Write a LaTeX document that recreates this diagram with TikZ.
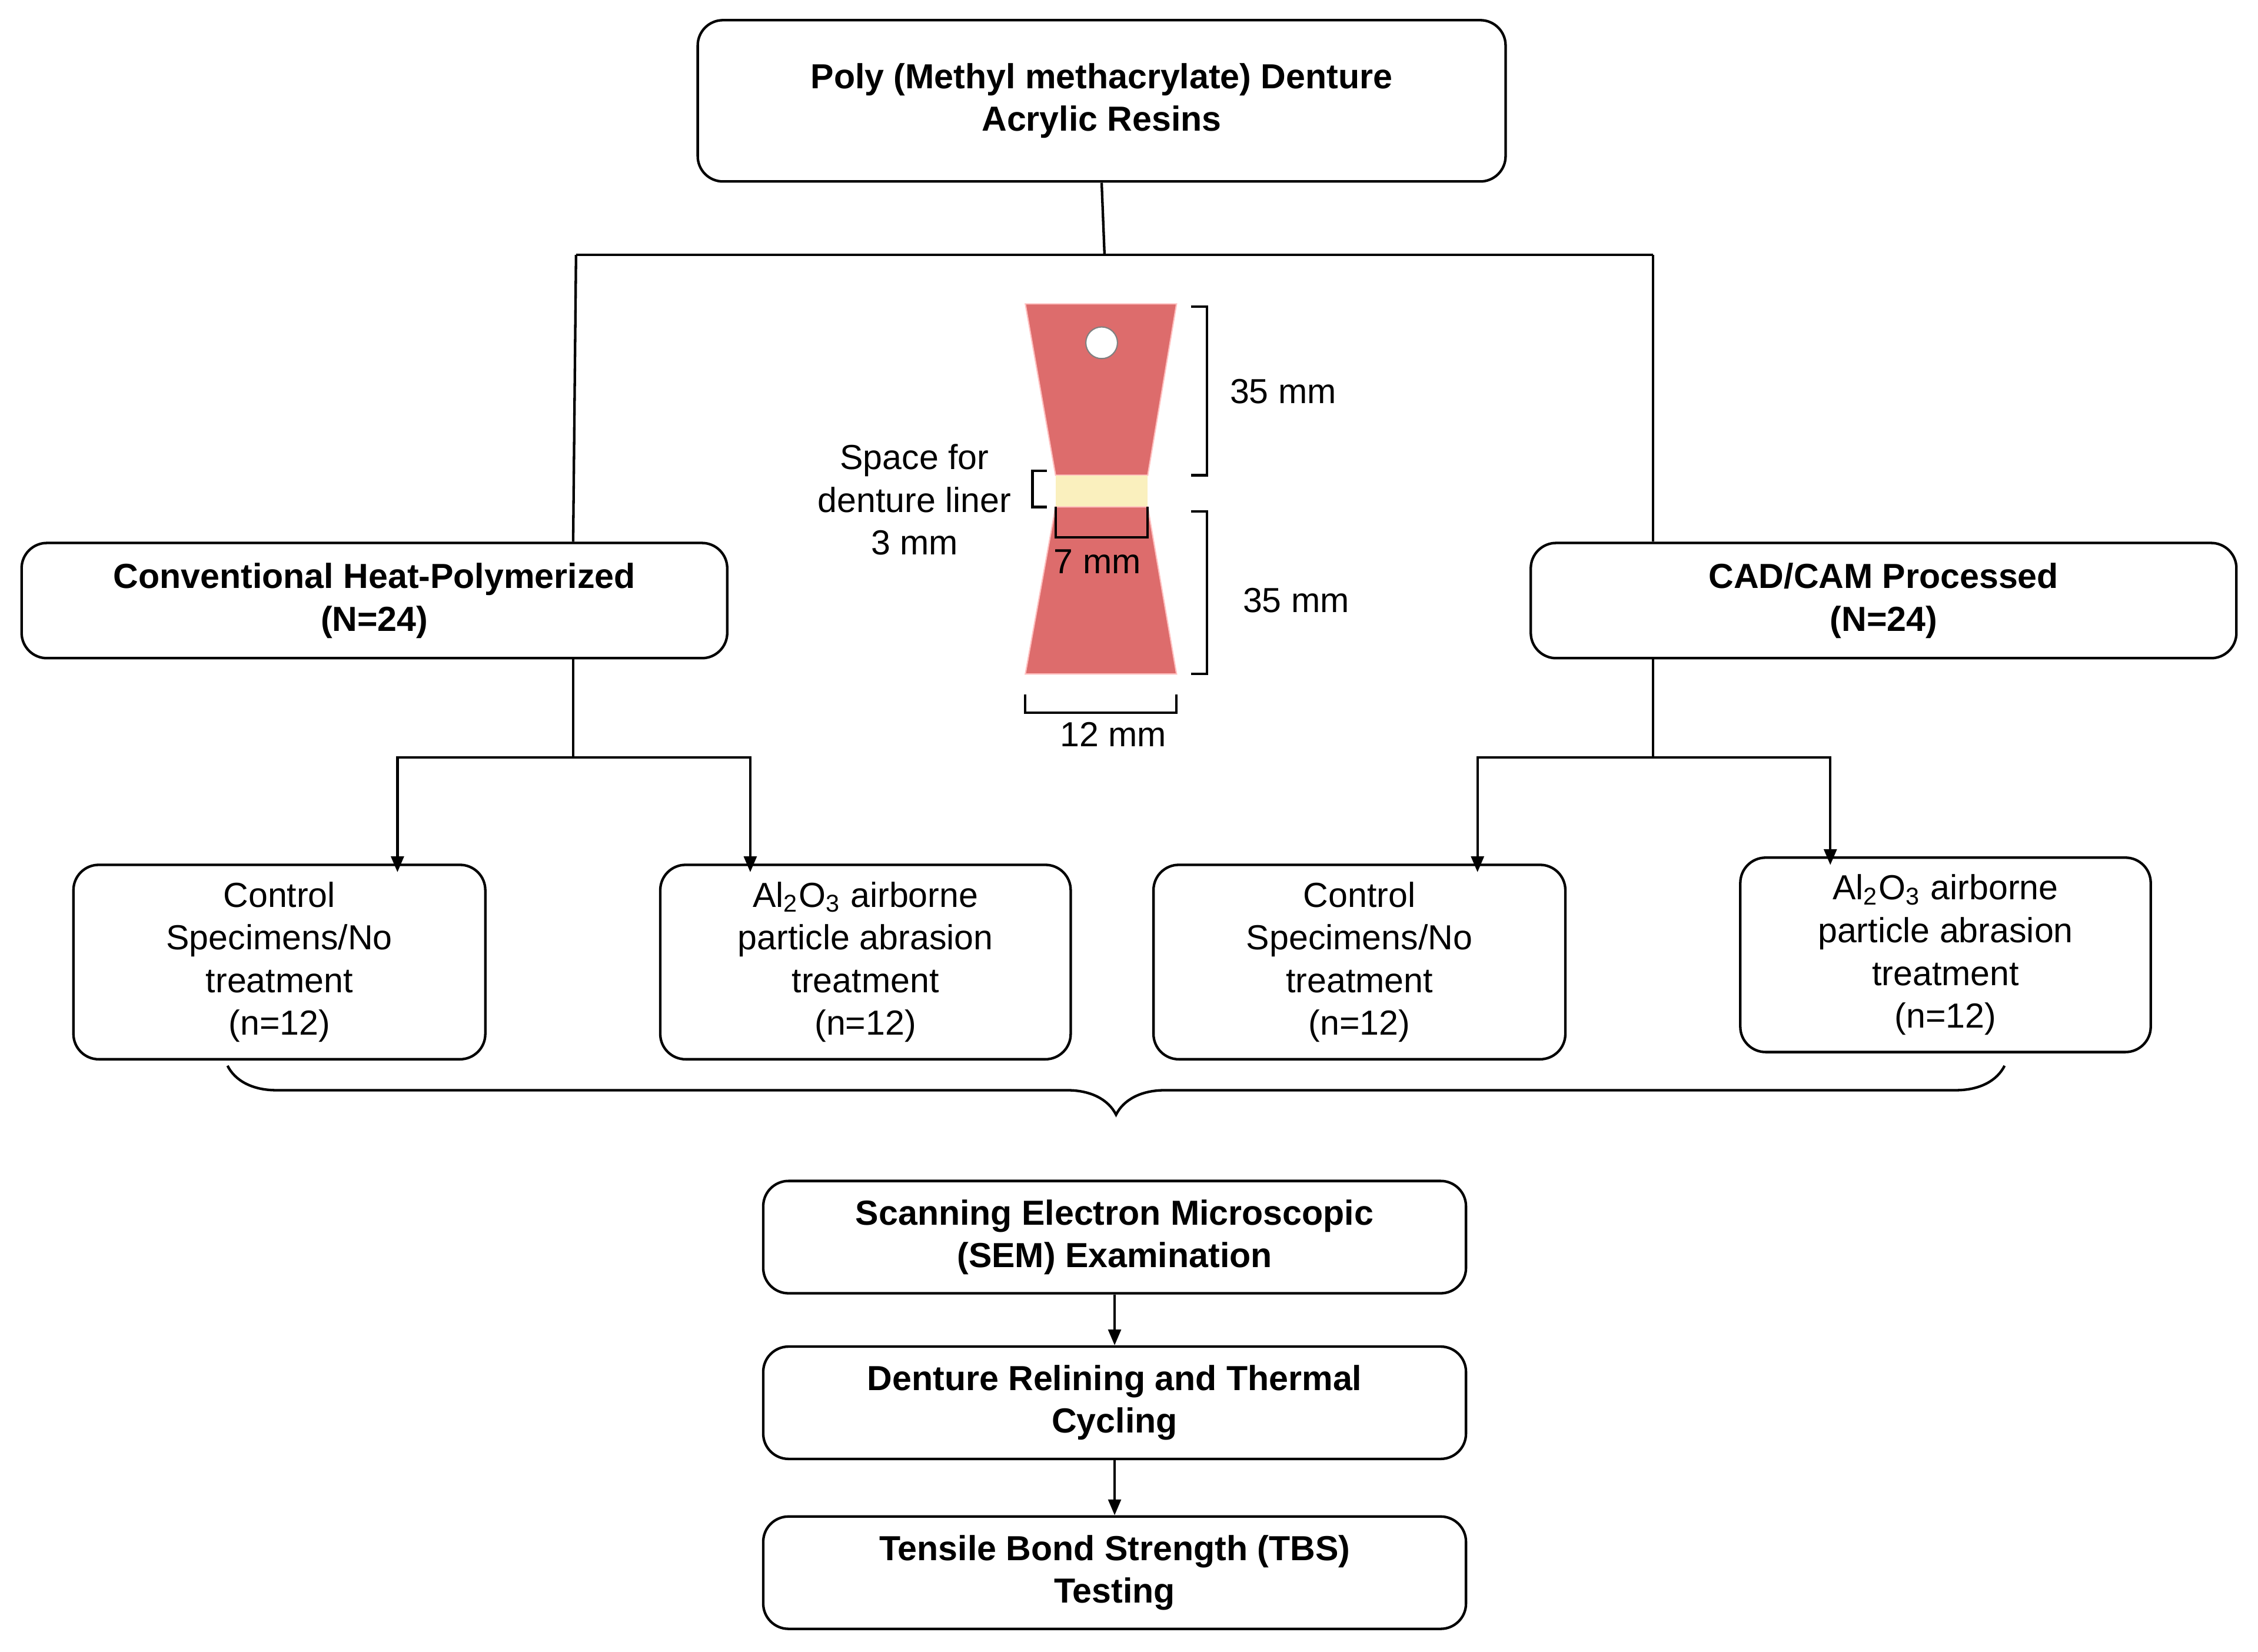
\documentclass[tikz,border=0pt]{standalone}
\usepackage{fontspec}
\setmainfont{Liberation Sans}
\usetikzlibrary{calc, arrows.meta, positioning, decorations.pathreplacing}
\definecolor{resin}{RGB}{221,108,108}
\definecolor{liner}{RGB}{250,240,190}
\begin{document}
\begin{tikzpicture}[x=0.016cm, y=-0.016cm, font=\fontsize{11}{13.5}\selectfont,
  box/.style={draw, rounded corners=8pt, thick, align=center, inner sep=0pt},
  bbox/.style={box, font=\fontsize{11}{13.5}\selectfont\bfseries},
  arr/.style={-{Triangle[length=5pt, width=4pt]}, thick},
  ln/.style={thick}]
\useasboundingbox (0,0) rectangle (1568,1147);
% boxes
\node[bbox, minimum width=561*0.016cm, minimum height=112*0.016cm] (resins) at (765,70) {Poly (Methyl methacrylate) Denture\\Acrylic Resins};
\node[bbox, minimum width=490*0.016cm, minimum height=80*0.016cm] (conv) at (260,417) {Conventional Heat-Polymerized\\(N=24)};
\node[bbox, minimum width=490*0.016cm, minimum height=80*0.016cm] (cad) at (1308,417) {CAD/CAM Processed\\(N=24)};
\node[box, minimum width=286*0.016cm, minimum height=135*0.016cm] (convctl) at (194,668) {Control\\Specimens/No\\treatment\\(n=12)};
\node[box, minimum width=285*0.016cm, minimum height=135*0.016cm] (convabr) at (601,668) {Al\textsubscript{2}O\textsubscript{3} airborne\\particle abrasion\\treatment\\(n=12)};
\node[box, minimum width=286*0.016cm, minimum height=135*0.016cm] (cadctl) at (944,668) {Control\\Specimens/No\\treatment\\(n=12)};
\node[box, minimum width=285*0.016cm, minimum height=135*0.016cm] (cadabr) at (1351,663) {Al\textsubscript{2}O\textsubscript{3} airborne\\particle abrasion\\treatment\\(n=12)};
\node[bbox, minimum width=488*0.016cm, minimum height=78*0.016cm] (sem) at (774,859) {Scanning Electron Microscopic\\(SEM) Examination};
\node[bbox, minimum width=488*0.016cm, minimum height=78*0.016cm] (reline) at (774,974) {Denture Relining and Thermal\\Cycling};
\node[bbox, minimum width=488*0.016cm, minimum height=78*0.016cm] (tbs) at (774,1092) {Tensile Bond Strength (TBS)\\Testing};
% connectors
\coordinate (split) at (767,177);
\draw[ln] (resins.south) -- (split);
\draw[ln] (400,177) -- (1148,177);
\draw[ln] (400,177) -- (conv.north -| 398,0);
\draw[ln] (1148,177) -- (cad.north -| 1148,0);
\coordinate (cfork) at (398,526);
\coordinate (rfork) at (1148,526);
\draw[ln] (conv.south -| cfork) -- (cfork);
\draw[ln] (cad.south -| rfork) -- (rfork);
\draw[arr] (cfork) -| ([yshift=-6*0.016cm]convctl.north -| 276,0);
\draw[arr] (cfork) -| ([yshift=-6*0.016cm]convabr.north -| 521,0);
\draw[arr] (rfork) -| ([yshift=-6*0.016cm]cadctl.north -| 1026,0);
\draw[arr] (rfork) -| ([yshift=-6*0.016cm]cadabr.north -| 1271,0);
\draw[ln, decorate, decoration={brace, mirror, amplitude=34*0.016cm}] (158,740) -- (1392,740);
\draw[arr] (sem.south) -- (reline.north);
\draw[arr] (reline.south) -- (tbs.north);
% specimen
\fill[resin, draw=pink] (712,211) -- (817,211) -- (797,330) -- (733,330) -- cycle;
\fill[liner] (733,330) rectangle (797,352);
\fill[resin, draw=pink] (733,352) -- (797,352) -- (817,468) -- (712,468) -- cycle;
\node[circle, draw=gray, fill=white, minimum size=22*0.016cm, inner sep=0pt] (hole) at (765,238) {};
\draw[thick] (827,213) -- (838,213) -- (838,330) -- (827,330);
\node (top35) at (891,272) {35 mm};
\draw[thick] (827,355) -- (838,355) -- (838,468) -- (827,468);
\node (bot35) at (900,417) {35 mm};
\draw[thick] (727,327) -- (717,327) -- (717,352) -- (727,352);
\node[align=center] (space) at (635,347) {Space for\\denture liner\\3 mm};
\draw[thick] (733,352) -- (733,373) -- (797,373) -- (797,352);
\node (w7) at (762,390) {7 mm};
\draw[thick] (712,482) -- (712,495) -- (817,495) -- (817,482);
\node (w12) at (773,510) {12 mm};
\end{tikzpicture}
\end{document}
